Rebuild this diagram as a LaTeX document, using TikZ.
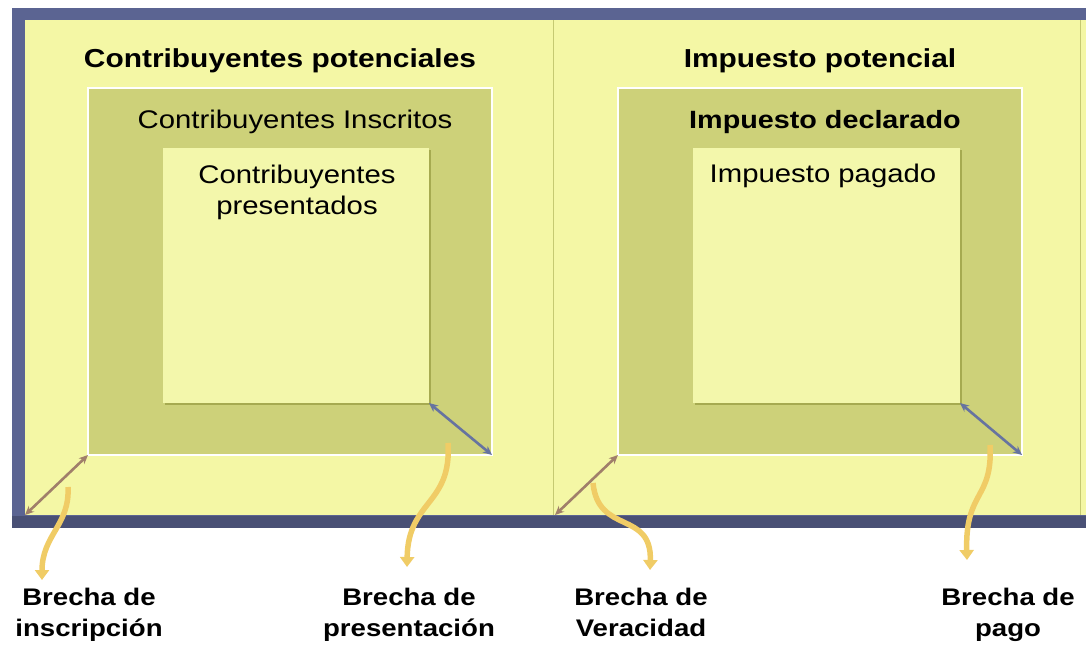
\documentclass[tikz,border=0pt]{standalone}
\usepackage{fontspec}
\setmainfont{Liberation Sans}[FakeStretch=1.15]
\usetikzlibrary{arrows.meta}
\definecolor{framec}{HTML}{5B6492}
\definecolor{panelc}{HTML}{F4F7A5}
\definecolor{midc}{HTML}{CDD179}
\definecolor{innerc}{HTML}{F3F7AB}
\definecolor{shadowc}{HTML}{A6AA50}
\definecolor{brownc}{HTML}{A07F6A}
\definecolor{bluec}{HTML}{6673A0}
\definecolor{wavec}{HTML}{F0CC66}
\begin{document}
\begin{tikzpicture}
[x=1pt,y=-1pt,>=Stealth,
midbox/.style={draw=white,line width=1.6pt,fill=midc,inner sep=0pt,outer sep=0pt,minimum width=404pt,minimum height=367pt},
innerbox/.style={fill=innerc,inner sep=0pt,outer sep=0pt,minimum height=255pt},
title/.style={anchor=base,font=\fontsize{26}{30}\selectfont\bfseries},
txt/.style={anchor=base,font=\fontsize{25.5}{31}\selectfont,align=center},
gaplabel/.style={anchor=base,font=\fontsize{24}{31}\selectfont\bfseries,align=center},
gaparrow/.style={wavec,line width=5.5pt,-{Triangle[length=10pt,width=14pt]}},
corner/.style={{Stealth[length=9pt,width=8pt]}-{Stealth[length=9pt,width=8pt]},line width=2.6pt},]

\useasboundingbox (0,0) rectangle (1086,646);
\clip (0,0) rectangle (1086,646);

%Frame and panels
\fill[framec] (12,8) rectangle (1100,528);
\fill[framec!80!black] (12,516) rectangle (1100,528);
\fill[panelc] (25,20) rectangle (1100,515);
\draw[shadowc!60!panelc,line width=1pt] (553,20) -- (553,515);
\draw[shadowc!60!panelc,line width=1pt] (1080,20) -- (1080,515);

%Boxes
\node (L) at (290,271.5)[midbox] {};
\node (R) at (820,271.5)[midbox] {};
\fill[shadowc] (165,150) rectangle (431,405);
\fill[shadowc] (695,150) rectangle (962,405);
\node (l) at (296,275.5)[innerbox,minimum width=266pt] {};
\node (r) at (826.5,275.5)[innerbox,minimum width=267pt] {};

%Texts
\node (T1) at (280,67)[title] {Contribuyentes potenciales};
\node (T2) at (820,67)[title] {Impuesto potencial};
\node (S1) at (295,128)[txt] {Contribuyentes Inscritos};
\node (S2) at (825,128)[txt,font=\fontsize{25}{31}\selectfont\bfseries] {Impuesto declarado};
\node (P1) at (297,214)[txt] {Contribuyentes\\presentados};
\node (P2) at (823,182)[txt] {Impuesto pagado};

%Corners
\coordinate (A) at (25,515);
\coordinate (B) at (555,515);
\draw[corner,brownc] (A) -- (L.south west);
\draw[corner,bluec] (l.south east) -- (L.south east);
\draw[corner,brownc] (B) -- (R.south west);
\draw[corner,bluec] (r.south east) -- (R.south east);

%Gap labels
\node (G1) at (89,636)[gaplabel] {Brecha de\\inscripción};
\node (G2) at (409,636)[gaplabel] {Brecha de\\presentación};
\node (G3) at (641,636)[gaplabel] {Brecha de\\Veracidad};
\node (G4) at (1008,636)[gaplabel] {Brecha de\\pago};

%Wavy arrows
\coordinate (a1) at (68,487);
\coordinate (b1) at (42,580);
\coordinate (a2) at (448,443);
\coordinate (b2) at (407,567);
\coordinate (a3) at (593,483);
\coordinate (b3) at (650,570);
\coordinate (a4) at (990,445);
\coordinate (b4) at (967,560);
\draw[gaparrow] (a1) .. controls (70,525) and (42,535) .. (b1);
\draw[gaparrow] (a2) .. controls (452,505) and (408,500) .. (b2);
\draw[gaparrow] (a3) .. controls (598,535) and (652,510) .. (b3);
\draw[gaparrow] (a4) .. controls (993,500) and (965,490) .. (b4);

\end{tikzpicture}
\end{document}
